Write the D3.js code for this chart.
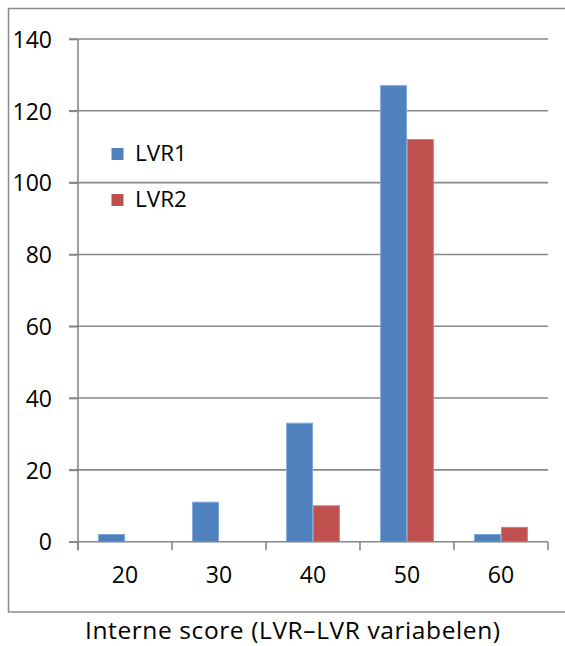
<!DOCTYPE html>
<html>
<head>
<meta charset="utf-8">
<script src="https://cdn.jsdelivr.net/npm/d3@7/dist/d3.min.js"></script>
<style>
html,body{margin:0;padding:0;background:#fff;}
svg text{font-family:"Open Sans",Lato,sans-serif;fill:#000;}
</style>
</head>
<body>
<svg id="chart" width="565" height="646"></svg>
<script>
const categories = ["20","30","40","50","60"];
const seriesNames = ["LVR1","LVR2"];
const lvr1 = [2, 11, 33, 127, 2];
const lvr2 = [0, 0, 10, 112, 4];
const yTicks = [0,20,40,60,80,100,120,140];
const xTitle = "Interne score (LVR\u2013LVR variabelen)";
const colors = ["#4F81BD","#C0504D"];
const strokes = ["#7EA6D8","#D27B78"];

(function(){
const svg = d3.select("#chart");
const pLeft = 78, pRight = 548, pTop = 39, pBottom = 541.7;

// outer border
svg.append("rect").attr("x",8.5).attr("y",8.5).attr("width",570).attr("height",603.5)
  .attr("fill","none").attr("stroke","#8a8a8a").attr("stroke-width",1.5);

const y = d3.scaleLinear().domain([0,140]).range([pBottom, pTop]);
const x0 = d3.scaleBand().domain(categories).range([pLeft, pRight]).padding(0);
const bw = x0.bandwidth();
const unit = bw/3.5;
const x1 = d3.scaleBand().domain(seriesNames).range([unit*0.75, bw - unit*0.75]).padding(0);

// gridlines
svg.append("g").selectAll("line").data(yTicks.filter(d=>d>0)).join("line")
  .attr("x1", pLeft-9).attr("x2", pRight)
  .attr("y1", d=>y(d)).attr("y2", d=>y(d))
  .attr("stroke","#888").attr("stroke-width",1.6);

// y axis
const yAxis = d3.axisLeft(y).tickValues(yTicks).tickSize(9).tickPadding(17);
const gy = svg.append("g").attr("transform",`translate(${pLeft},0)`).call(yAxis);
gy.select(".domain").remove();
gy.selectAll(".tick line").attr("stroke","#888").attr("stroke-width",1.6);
gy.selectAll(".tick text").attr("font-size",23).attr("font-family",null).attr("dy","0.36em");
svg.append("line").attr("x1",pLeft).attr("x2",pLeft).attr("y1",pTop).attr("y2",pBottom+8.5)
  .attr("stroke","#888").attr("stroke-width",1.6);

// bars
const data = categories.map((c,i)=>({cat:c, vals:[{s:"LVR1",v:lvr1[i],k:0},{s:"LVR2",v:lvr2[i],k:1}]}));
const g = svg.append("g").selectAll("g").data(data).join("g")
  .attr("transform", d=>`translate(${x0(d.cat)},0)`);
g.selectAll("rect").data(d=>d.vals.filter(v=>v.v>0)).join("rect")
  .attr("x", d=>x1(d.s)+0.5).attr("width", x1.bandwidth()-1)
  .attr("y", d=>y(d.v)).attr("height", d=>pBottom - y(d.v))
  .attr("fill", d=>colors[d.k]).attr("stroke", d=>strokes[d.k]).attr("stroke-width",1);

// x axis
svg.append("line").attr("x1",pLeft-9).attr("x2",pRight).attr("y1",pBottom).attr("y2",pBottom)
  .attr("stroke","#888").attr("stroke-width",1.6);
const bounds = categories.map(c=>x0(c)).concat([pRight]);
svg.append("g").selectAll("line").data(bounds).join("line")
  .attr("x1",d=>d).attr("x2",d=>d).attr("y1",pBottom).attr("y2",pBottom+8.5)
  .attr("stroke","#888").attr("stroke-width",1.6);
svg.append("g").selectAll("text").data(categories).join("text")
  .attr("x", d=>x0(d)+bw/2).attr("y", 583)
  .attr("text-anchor","middle").attr("font-size",23).text(d=>d);

// x title
svg.append("text").attr("x",292.5).attr("y",639).attr("text-anchor","middle")
  .attr("font-size",24.5).attr("textLength",415).attr("lengthAdjust","spacing").text(xTitle);

// legend
const leg = svg.append("g").selectAll("g").data(seriesNames).join("g")
  .attr("transform",(d,i)=>`translate(111.5,${148 + i*46})`);
leg.append("rect").attr("width",12).attr("height",12).attr("fill",(d,i)=>colors[i]);
leg.append("text").attr("x",23.5).attr("y",12.5).attr("font-size",22.5).text(d=>d);
})();
</script>
</body>
</html>
